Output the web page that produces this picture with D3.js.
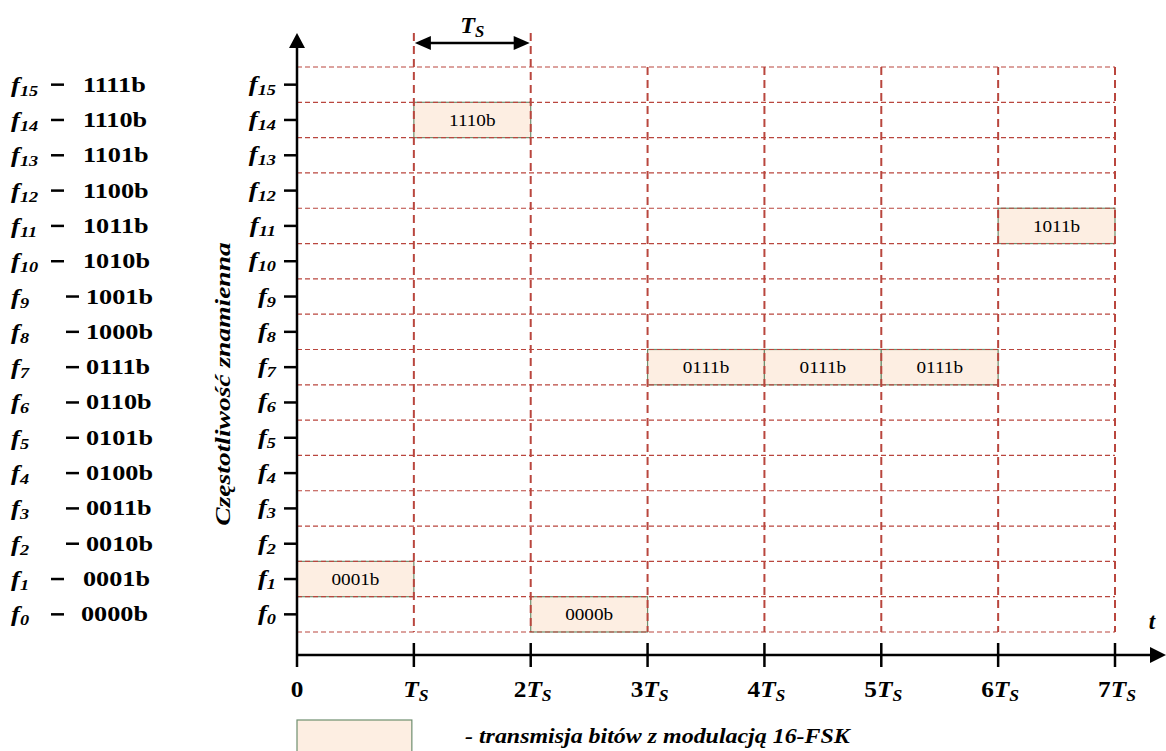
<!DOCTYPE html>
<html><head><meta charset="utf-8">
<script src="https://cdn.jsdelivr.net/npm/d3@7"></script>
<style>
html,body{margin:0;padding:0;background:#fff;}
svg{display:block;font-family:"Liberation Serif","Times New Roman",serif;}
</style></head>
<body>
<svg id="c" width="1166" height="751"></svg>
<script>
// ---- data ----
const levels = d3.range(0, 16);                       // f0..f15
const codes = ["0000b","0001b","0010b","0011b","0100b","0101b","0110b","0111b",
               "1000b","1001b","1010b","1011b","1100b","1101b","1110b","1111b"];
const slots = [0,1,2,3,4,5,6,7];                      // 0, Ts, 2Ts ... 7Ts
const slotLabels = ["0","","2","3","4","5","6","7"];  // prefix before T_S
const symbolSlot = [0,1,2,3,4,5,6];
const symbolFreq = [1,14,0,7,7,7,11];
const symbolCode = ["0001b","1110b","0000b","0111b","0111b","0111b","1011b"];

const svg = d3.select("#c");
const x = d3.scaleLinear().domain([0,7]).range([297,1115]);
const y = d3.scaleLinear().domain([-0.5,15.5]).range([632,67]);
const bandH = y(0) - y(1);

const red = "#b9463e";
const boxFill = "#fdeee2";
const boxStroke = "#6f8f6f";
const tr = (px,py,sx)=>`translate(${px},${py}) scale(${sx},1)`;

// boxes
const boxes = symbolSlot.map((s,i)=>({s, f:symbolFreq[i], c:symbolCode[i]}));
svg.selectAll("rect.sym").data(boxes).enter().append("rect")
  .attr("x", d=>x(d.s)).attr("y", d=>y(d.f+0.5))
  .attr("width", d=>x(d.s+1)-x(d.s)).attr("height", bandH)
  .attr("fill", boxFill).attr("stroke", boxStroke).attr("stroke-width", 1.2);
svg.selectAll("text.sym").data(boxes).enter().append("text")
  .attr("transform", d=>tr((x(d.s)+x(d.s+1))/2, y(d.f)+6, 1.2))
  .attr("text-anchor","middle").attr("font-size",16).text(d=>d.c);

// horizontal dashed grid
const hLines = d3.range(-0.5, 16, 1);
svg.selectAll("line.h").data(hLines).enter().append("line")
  .attr("x1", x(0)).attr("x2", x(7)).attr("y1", d=>y(d)).attr("y2", d=>y(d))
  .attr("stroke", red).attr("stroke-width", 1.2).attr("stroke-dasharray","5,3");

// vertical dashed grid
svg.selectAll("line.v").data(slots.slice(1)).enter().append("line")
  .attr("x1", d=>x(d)).attr("x2", d=>x(d))
  .attr("y1", d=> (d===1||d===2) ? 33 : y(15.5)).attr("y2", y(-0.5))
  .attr("stroke", red).attr("stroke-width", 2).attr("stroke-dasharray","8,5");

// axes
const axY = 655;
svg.append("line").attr("x1",x(0)).attr("x2",x(0)).attr("y1",667).attr("y2",44)
  .attr("stroke","#000").attr("stroke-width",2.5);
svg.append("path").attr("d",`M${x(0)},33 L${x(0)-8},48 L${x(0)+8},48 Z`).attr("fill","#000");
svg.append("line").attr("x1",x(0)).attr("x2",1152).attr("y1",axY).attr("y2",axY)
  .attr("stroke","#000").attr("stroke-width",2.5);
svg.append("path").attr("d",`M1166,${axY} L1150,${axY-8} L1150,${axY+8} Z`).attr("fill","#000");

// x ticks
svg.selectAll("line.xt").data(slots.slice(1)).enter().append("line")
  .attr("x1", d=>x(d)).attr("x2", d=>x(d)).attr("y1",643).attr("y2",667)
  .attr("stroke","#000").attr("stroke-width",2.5);
const xl = svg.selectAll("text.xl").data(slots).enter().append("text")
  .attr("transform", d=>tr(x(d)+(d===0?0:2), 697, 1.1)).attr("text-anchor","middle")
  .attr("font-size",23).attr("font-weight","bold");
xl.each(function(d,i){
  const t = d3.select(this);
  if (d===0){ t.text("0"); return; }
  if (slotLabels[i]) t.append("tspan").text(slotLabels[i]);
  t.append("tspan").attr("font-style","italic").text("T");
  t.append("tspan").attr("font-style","italic").attr("font-size",16).attr("dy",4).text("S");
});

// y ticks
svg.selectAll("line.yt").data(levels).enter().append("line")
  .attr("x1",284).attr("x2",x(0)).attr("y1",d=>y(d)).attr("y2",d=>y(d))
  .attr("stroke","#000").attr("stroke-width",2.5);
const yl = svg.selectAll("text.yl").data(levels).enter().append("text")
  .attr("transform", d=>tr(276, y(d)+6, 1.22)).attr("text-anchor","end")
  .attr("font-size",22).attr("font-weight","bold").attr("font-style","italic");
yl.append("tspan").text("f");
yl.append("tspan").attr("font-size",15).attr("dy",4).text(d=>d);

// left legend of codes
const lg = svg.selectAll("g.code").data(levels).enter().append("g");
const lf = lg.append("text").attr("transform", d=>tr(11, y(d)+7, 1.22))
  .attr("font-size",22).attr("font-weight","bold").attr("font-style","italic");
lf.append("tspan").text("f");
lf.append("tspan").attr("font-size",15).attr("dy",4).text(d=>d);
lg.append("line").attr("x1",d=>(d>=2&&d<10)?66:51).attr("x2",d=>(d>=2&&d<10)?79:64)
  .attr("y1",d=>y(d)).attr("y2",d=>y(d)).attr("stroke","#000").attr("stroke-width",2.5);
lg.append("text").attr("transform", d=>tr((d>=2&&d<10)?86:(d===0?81:83), y(d)+7, 1.25))
  .attr("font-size",21).attr("font-weight","bold").text(d=>codes[d]);

// y title
svg.append("text").attr("transform","translate(230,384) rotate(-90) scale(1.25,1)")
  .attr("text-anchor","middle").attr("font-size",22).attr("font-weight","bold")
  .attr("font-style","italic").text("Częstotliwość znamienna");

// t label
svg.append("text").attr("x",1152).attr("y",629).attr("text-anchor","middle")
  .attr("font-size",23).attr("font-weight","bold").attr("font-style","italic").text("t");

// Ts arrow on top
const ay = 43;
svg.append("line").attr("x1",x(1)+14).attr("x2",x(2)-14).attr("y1",ay).attr("y2",ay)
  .attr("stroke","#000").attr("stroke-width",2.5);
svg.append("path").attr("d",`M${x(1)+1},${ay} L${x(1)+17},${ay-7} L${x(1)+17},${ay+7} Z`).attr("fill","#000");
svg.append("path").attr("d",`M${x(2)-1},${ay} L${x(2)-17},${ay-7} L${x(2)-17},${ay+7} Z`).attr("fill","#000");
const tt = svg.append("text").attr("transform", tr((x(1)+x(2))/2, 33, 1.05)).attr("text-anchor","middle")
  .attr("font-size",23).attr("font-weight","bold").attr("font-style","italic");
tt.append("tspan").text("T");
tt.append("tspan").attr("font-size",16).attr("dy",4).text("S");

// bottom legend
svg.append("rect").attr("x",x(0)).attr("y",720).attr("width",x(1)-x(0)-2).attr("height",40)
  .attr("fill",boxFill).attr("stroke",boxStroke).attr("stroke-width",1.2);
svg.append("text").attr("transform", tr(465, 743, 1.14)).attr("font-size",21).attr("font-weight","bold")
  .attr("font-style","italic").text("- transmisja bitów z modulacją 16-FSK");
</script>
</body></html>
